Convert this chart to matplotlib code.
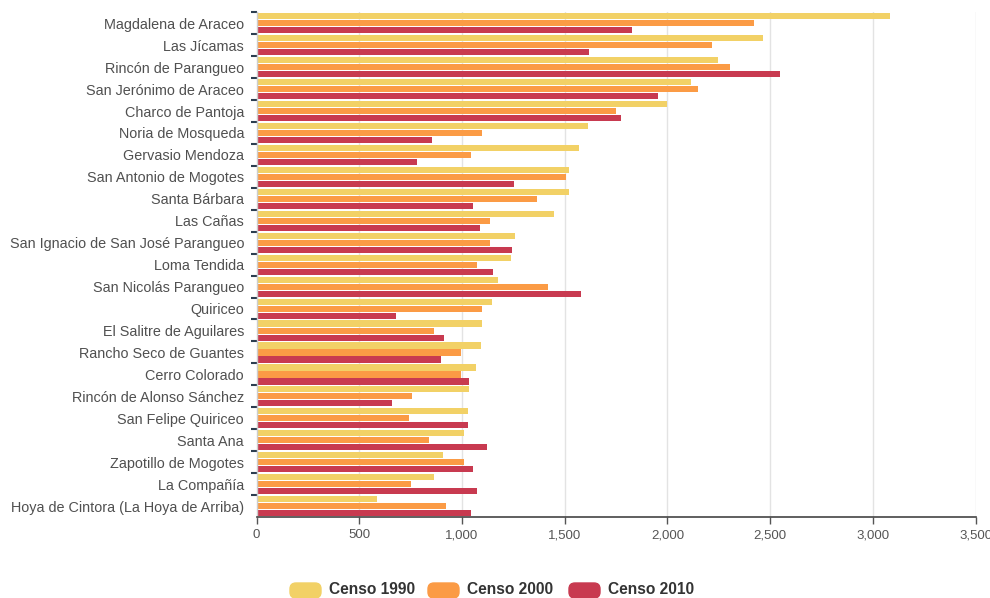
import numpy as np
import matplotlib
matplotlib.use("Agg")
import matplotlib.pyplot as plt
from matplotlib.patches import FancyBboxPatch
from matplotlib.ticker import FuncFormatter

# =========================
# DATA
# =========================
localidades = [
    "Magdalena de Araceo", "Las Jícamas", "Rincón de Parangueo",
    "San Jerónimo de Araceo", "Charco de Pantoja", "Noria de Mosqueda",
    "Gervasio Mendoza", "San Antonio de Mogotes", "Santa Bárbara",
    "Las Cañas", "San Ignacio de San José Parangueo", "Loma Tendida",
    "San Nicolás Parangueo", "Quiriceo", "El Salitre de Aguilares",
    "Rancho Seco de Guantes", "Cerro Colorado", "Rincón de Alonso Sánchez",
    "San Felipe Quiriceo", "Santa Ana", "Zapotillo de Mogotes",
    "La Compañía", "Hoya de Cintora (La Hoya de Arriba)",
]
censo_1990 = [3085, 2467, 2248, 2114, 1997, 1612, 1570, 1521, 1521, 1447,
              1259, 1237, 1174, 1148, 1099, 1092, 1069, 1033, 1028, 1010,
              906, 866, 585]
censo_2000 = [2424, 2216, 2305, 2148, 1750, 1096, 1043, 1505, 1364, 1137,
              1137, 1072, 1421, 1098, 866, 997, 997, 757, 744, 840,
              1010, 751, 921]
censo_2010 = [1827, 1619, 2549, 1956, 1773, 853, 783, 1254, 1056, 1088,
              1244, 1150, 1578, 677, 913, 897, 1036, 660, 1031, 1124,
              1056, 1075, 1046]
series = ["Censo 1990", "Censo 2000", "Censo 2010"]
colores = ["#f2d166", "#fb9b45", "#c83a50"]

# =========================
# FIGURE
# =========================
plt.rcParams["font.family"] = ["Liberation Sans", "DejaVu Sans"]
fig = plt.figure(figsize=(9.9, 5.98), dpi=100)
ax = fig.add_axes([0.2591, 0.1355, 0.9854 - 0.2591, 0.9794 - 0.1355])

y = np.arange(len(localidades))
offsets = [-0.315, 0.005, 0.325]
h = 0.28
for vals, off, c in zip([censo_1990, censo_2000, censo_2010], offsets, colores):
    ax.barh(y + off, vals, height=h, color=c, zorder=2)

ax.set_xlim(0, 3500)
ax.set_ylim(len(localidades) - 0.5, -0.5)

# x axis
ax.set_xticks(np.arange(0, 3501, 500))
ax.xaxis.set_major_formatter(FuncFormatter(lambda v, p: f"{int(v):,}"))
ax.tick_params(axis="x", length=5, width=1, color="#555555",
               labelsize=9.5, labelcolor="#555555", pad=4)
ax.grid(axis="x", color="#e3e3e3", linewidth=1, zorder=0)

# y axis: ticks at band tops, labels at centers
ax.set_yticks(y - 0.5)
ax.set_yticklabels([])
ax.set_yticks(y, minor=True)
ax.set_yticklabels(localidades, minor=True)
ax.tick_params(axis="y", which="major", length=4, width=1.5, color="#2c3e50")
ax.tick_params(axis="y", which="minor", length=0, labelsize=10.4,
               labelcolor="#505050", pad=9)

for s in ["top", "right"]:
    ax.spines[s].set_visible(False)
ax.spines["left"].set_color("#cccccc")
ax.spines["left"].set_linewidth(1)
ax.spines["bottom"].set_color("#444444")
ax.spines["bottom"].set_linewidth(1.2)

# =========================
# LEGEND
# =========================
W, H = 990, 598
leg_x = [290, 428, 569]
for x0, c, name in zip(leg_x, colores, series):
    patch = FancyBboxPatch((x0 / W, (H - 598) / H), 31 / W, 15 / H,
                           boxstyle="round,pad=0,rounding_size=0.006",
                           transform=fig.transFigure, color=c,
                           mutation_aspect=W / H)
    fig.patches.append(patch)
    fig.text((x0 + 39) / W, (H - 590) / H, name, ha="left", va="center",
             fontsize=11.2, fontweight="bold", color="#333333")

fig.savefig("out.png", dpi=100)
